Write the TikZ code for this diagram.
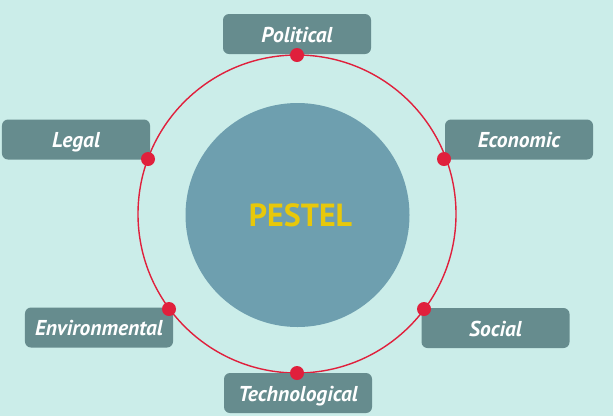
\documentclass[tikz,border=0pt]{standalone}
\usepackage{fontspec}
\setmainfont{PT Sans}
\definecolor{bgc}{RGB}{203,237,233}
\definecolor{boxc}{RGB}{102,140,142}
\definecolor{hubc}{RGB}{110,159,175}
\definecolor{ringc}{RGB}{224,32,60}
\definecolor{titlec}{RGB}{232,200,10}
\tikzset{
  lbl/.style={fill=boxc, rounded corners=6bp, minimum width=148bp, minimum height=40bp,
    inner sep=0pt, text height=20bp, text depth=4bp, text=white,
    font=\fontsize{21.5bp}{25bp}\selectfont\bfseries\itshape},
  dotn/.style={circle, fill=ringc, minimum size=14bp, inner sep=0pt},
  ringl/.style={draw=ringc, line width=1.4bp}
}
\begin{document}
\begin{tikzpicture}[x=1bp,y=-1bp]
\fill[bgc] (0,0) rectangle (613,416);
\useasboundingbox (0,0) rectangle (613,416);
% ring
\draw[ringl] (297,214) circle[radius=159];
% hub
\node[circle, fill=hubc, minimum size=224bp, inner sep=0pt] (hub) at (297.5,215) {};
\node[text=titlec, inner sep=0pt, font=\fontsize{32bp}{38bp}\selectfont\bfseries] (title) at (300.5,215.5) {PESTEL};
% labels
\node[lbl] (pol) at (297,34) {Political};
\node[lbl] (leg) at (76,139.5) {Legal};
\node[lbl] (eco) at (519,139.5) {Economic};
\node[lbl] (env) at (99,327.5) {Environmental};
\node[lbl] (soc) at (495.5,328) {Social};
\node[lbl] (tec) at (298,393) {Technological};
% dots
\node[dotn] (dpol) at (297,55) {};
\node[dotn] (dleg) at (148,159) {};
\node[dotn] (deco) at (444,159) {};
\node[dotn] (denv) at (169,309) {};
\node[dotn] (dsoc) at (424,309) {};
\node[dotn] (dtec) at (297,373) {};
\end{tikzpicture}
\end{document}
